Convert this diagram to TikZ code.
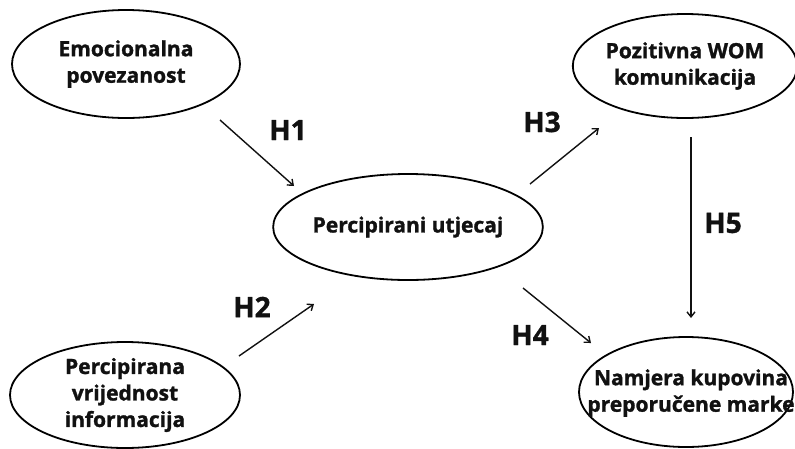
\documentclass[tikz,border=0pt]{standalone}
\usepackage{fontspec}
\setmainfont{Open Sans}[BoldFeatures={FakeBold=1.3}]
\usetikzlibrary{shapes.geometric,arrows.meta}
\definecolor{ink}{HTML}{111111}
\tikzset{
  construct/.style={ellipse, draw=black, line width=1.8pt, inner sep=0pt,
    text=ink, align=center, font=\fontsize{21}{26.5}\selectfont\bfseries},
  hyp/.style={-{Straight Barb[length=5pt,width=8pt]}, line width=1.4pt, draw=ink},
  hlabel/.style={text=ink, font=\fontsize{28}{32}\selectfont\bfseries, inner sep=0pt}
}
\begin{document}
\begin{tikzpicture}[x=1pt,y=-1pt]
\useasboundingbox (0,0) rectangle (795,448);
\node[construct, minimum width=228pt, minimum height=108pt] (emo) at (126,64) {Emocionalna\\povezanost};
\node[construct, minimum width=230pt, minimum height=106pt] (vri) at (125,395) {Percipirana\\vrijednost\\informacija};
\node[construct, minimum width=226pt, minimum height=106pt] (utj) at (408,227) {Percipirani utjecaj};
\node[construct, minimum width=220pt, minimum height=104pt] (wom) at (685,66) {Pozitivna WOM\\komunikacija};
\node[construct, minimum width=214pt, minimum height=110pt] (nam) at (686,392) {};
\node[text=ink, align=center, font=\fontsize{21}{26.5}\selectfont\bfseries, inner sep=0pt] (namt) at (691,393) {Namjera kupovina\\preporučene marke};

\coordinate (h1s) at (220,120); \coordinate (h1e) at (294,186);
\coordinate (h2s) at (239,356); \coordinate (h2e) at (314,304);
\coordinate (h3s) at (530,184); \coordinate (h3e) at (599,128);
\coordinate (h4s) at (523,288); \coordinate (h4e) at (591,343);
\coordinate (h5s) at (691,137); \coordinate (h5e) at (691,318);

\draw[hyp] (h1s) -- (h1e);
\draw[hyp] (h2s) -- (h2e);
\draw[hyp] (h3s) -- (h3e);
\draw[hyp] (h4s) -- (h4e);
\draw[hyp] (h5s) -- (h5e);

\node[hlabel] (l1) at (288,130) {H1};
\node[hlabel] (l2) at (252,307) {H2};
\node[hlabel] (l3) at (542,122) {H3};
\node[hlabel] (l4) at (530,335) {H4};
\node[hlabel] (l5) at (723,223) {H5};
\end{tikzpicture}
\end{document}
